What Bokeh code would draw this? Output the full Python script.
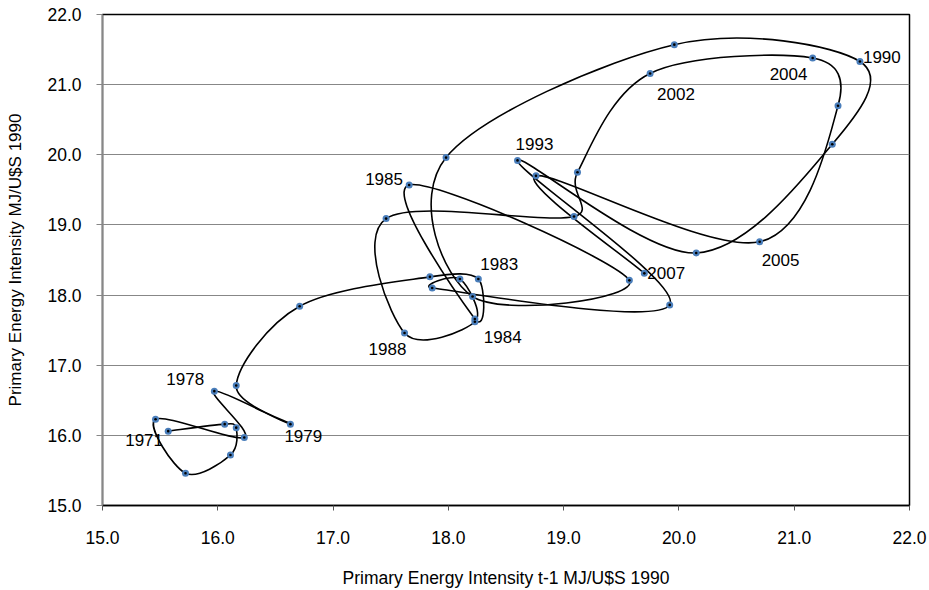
import numpy as np
from bokeh.plotting import figure
from bokeh.models import ColumnDataSource, FixedTicker, PrintfTickFormatter, Range1d
from bokeh.core.properties import value
from bokeh.embed import file_html
from bokeh.resources import INLINE

# ---------------- data ----------------
years = list(range(1970, 2008))
intensity = [15.57, 16.06, 16.16, 16.11, 15.72, 15.46, 16.23, 15.97, 16.63, 16.16,
             16.71, 17.84, 18.26, 18.23, 17.66, 19.57, 18.21, 17.98, 19.96, 21.57,
             21.33, 20.15, 18.60, 19.92, 17.86, 18.10, 18.23, 17.62, 17.46, 19.09,
             19.12, 19.75, 21.16, 21.38, 20.70, 18.76, 19.70, 18.31]

label_texts = ["1971", "1978", "1979", "1983", "1984", "1985", "1988",
               "1990", "1993", "2002", "2004", "2005", "2007"]
label_anchor_years = [1971, 1978, 1979, 1983, 1984, 1985, 1998,
                      1990, 1993, 2002, 2003, 2005, 2007]
label_dx = [-43, -48, -6, 2, 9, -44, -36, 3, -2, 7, -43, 2, 3]
label_dy = [9, -12, 12, -15, 18, -6, 16, -4, -16, 21, 16, 18, 0]

x_ticks = [15, 16, 17, 18, 19, 20, 21, 22]
y_ticks = [15, 16, 17, 18, 19, 20, 21, 22]

x_title = "Primary Energy Intensity t-1 MJ/U$S 1990"
y_title = "Primary Energy Intensity MJ/U$S 1990"

# ---------------- layout ----------------
W, H = 929, 590
BL, BR, BT, BB = 102, 20, 14, 85
FW, FH = W - BL - BR, H - BT - BB
FONT = "Liberation Sans"

xmin, xmax = x_ticks[0], x_ticks[-1]
ymin, ymax = y_ticks[0], y_ticks[-1]

# phase pairs: (I(t-1), I(t)) for t = 1971..2007
px = np.array(intensity[:-1], dtype=float)
py = np.array(intensity[1:], dtype=float)
pyears = years[1:]

# ---- Excel-like smoothed line (Bezier, computed in screen space) ----
sx = FW / (xmax - xmin)
sy = FH / (ymax - ymin)
P = np.column_stack([px * sx, py * sy])
n = len(P)
seg = {k: [] for k in ["x0", "y0", "x1", "y1", "cx0", "cy0", "cx1", "cy1"]}
for i in range(n - 1):
    p0 = P[i - 1] if i > 0 else P[i]
    p1 = P[i]
    p2 = P[i + 1]
    p3 = P[i + 2] if i + 2 < n else P[i + 1]
    d12 = np.linalg.norm(p2 - p1)
    t1 = (p2 - p0) / 6.0
    t2 = (p3 - p1) / 6.0
    for t in (t1, t2):
        L = np.linalg.norm(t)
        if L > d12 / 2 and L > 0:
            t *= (d12 / 2) / L
    c1 = p1 + t1
    c2 = p2 - t2
    seg["x0"].append(p1[0] / sx); seg["y0"].append(p1[1] / sy)
    seg["x1"].append(p2[0] / sx); seg["y1"].append(p2[1] / sy)
    seg["cx0"].append(c1[0] / sx); seg["cy0"].append(c1[1] / sy)
    seg["cx1"].append(c2[0] / sx); seg["cy1"].append(c2[1] / sy)

p = figure(width=W, height=H, output_backend="svg", toolbar_location=None,
           x_range=Range1d(xmin, xmax), y_range=Range1d(ymin, ymax),
           min_border_left=BL, min_border_right=BR, min_border_top=BT,
           min_border_bottom=BB)
p.background_fill_color = "white"
p.border_fill_color = "white"
p.outline_line_color = "black"
p.outline_line_width = 1.5

p.xgrid.grid_line_color = None
p.ygrid.grid_line_color = "#878787"
p.ygrid.grid_line_width = 1.2
p.ygrid.ticker = FixedTicker(ticks=y_ticks)

for ax, ticks in ((p.xaxis[0], x_ticks), (p.yaxis[0], y_ticks)):
    ax.ticker = FixedTicker(ticks=ticks)
    ax.formatter = PrintfTickFormatter(format="%.1f")
    ax.minor_tick_line_color = None
    ax.major_tick_in = 0
    ax.major_label_text_font = FONT
    ax.major_label_text_font_size = "17.5px"
    ax.major_label_text_color = "black"
    ax.axis_label_text_font = FONT
    ax.axis_label_text_font_style = "normal"
    ax.axis_label_text_color = "black"

p.xaxis.axis_label = x_title
p.yaxis.axis_label = y_title
p.xaxis.axis_label_text_font_size = "17.5px"
p.yaxis.axis_label_text_font_size = "17px"
p.xaxis.axis_line_color = "black"
p.xaxis.axis_line_width = 1.5
p.xaxis.major_tick_line_color = "#555555"
p.xaxis.major_tick_out = 5
p.xaxis.major_label_standoff = 20
p.xaxis.axis_label_standoff = 21
p.yaxis.axis_line_color = "#878787"
p.yaxis.axis_line_width = 1.5
p.yaxis.major_tick_line_color = "#878787"
p.yaxis.major_tick_out = 6
p.yaxis.major_label_standoff = 15
p.yaxis.axis_label_standoff = 19

p.bezier(x0="x0", y0="y0", x1="x1", y1="y1", cx0="cx0", cy0="cy0",
         cx1="cx1", cy1="cy1", source=ColumnDataSource(seg),
         line_color="black", line_width=1.6)

pts = ColumnDataSource(dict(x=px, y=py, year=pyears))
p.scatter("x", "y", source=pts, size=7, fill_color="#4a7ebb", line_color=None)
p.scatter("x", "y", source=pts, size=2.6, fill_color="black", line_color=None)

idx = [pyears.index(yr) for yr in label_anchor_years]
lab = ColumnDataSource(dict(x=px[idx], y=py[idx], text=label_texts,
                            dx=label_dx, dy=label_dy))
p.text("x", "y", text="text", source=lab, x_offset="dx", y_offset="dy",
       text_align="left", text_baseline="middle", text_font=value(FONT),
       text_font_size="17px", text_color="black")

open("out.html", "w").write(file_html(p, INLINE))
